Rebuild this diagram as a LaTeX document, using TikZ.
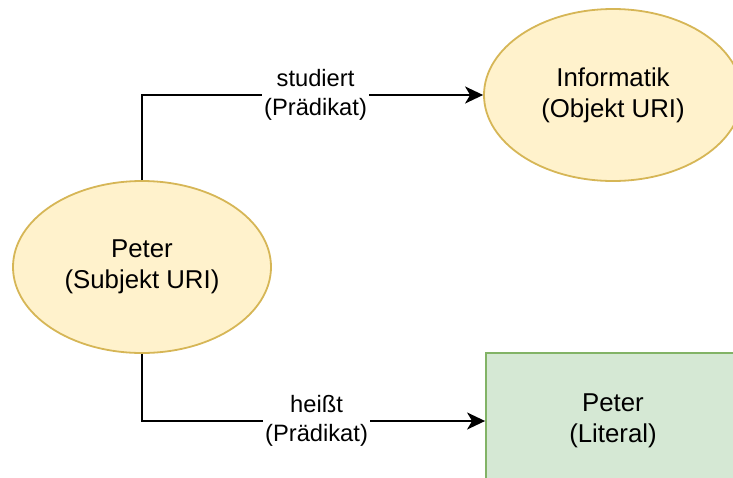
\documentclass[tikz,border=0pt]{standalone}
\usepackage{fontspec}
\setmainfont{Liberation Sans}
\usetikzlibrary{shapes.geometric,arrows.meta}
\definecolor{uriFill}{HTML}{FFF2CC}
\definecolor{uriLine}{HTML}{D6B656}
\definecolor{litFill}{HTML}{D5E8D4}
\definecolor{litLine}{HTML}{82B366}
\tikzset{
  urinode/.style={ellipse, draw=uriLine, fill=uriFill, line width=1.8pt,
    minimum width=258pt, minimum height=172pt, inner sep=0pt, align=center,
    font=\fontsize{25.8pt}{31pt}\selectfont},
  litnode/.style={rectangle, draw=litLine, fill=litFill, line width=1.8pt,
    minimum width=254pt, minimum height=136pt, inner sep=0pt, align=center,
    font=\fontsize{25.8pt}{31pt}\selectfont},
  relation/.style={line width=2pt, -{Stealth[length=18pt,width=17pt,inset=5pt]}},
  predlabel/.style={fill=white, inner sep=2pt, align=center, xshift=3pt,
    font=\fontsize{23.7pt}{29pt}\selectfont}
}
\begin{document}
\begin{tikzpicture}[x=1pt,y=-1pt]
  \useasboundingbox (0,0) rectangle (733,477);
  \clip (0,0) rectangle (733,477);
  \node[urinode] (subj) at (142,267) {Peter\\(Subjekt URI)};
  \node[urinode] (obj) at (613,95) {Informatik\\(Objekt URI)};
  \node[litnode] (lit) at (613,421) {Peter\\(Literal)};
  \draw[relation] (subj.north) |- (obj.west)
    node[predlabel, pos=0.75] (p1) {studiert\\(Prädikat)};
  \draw[relation] (subj.south) |- (lit.west)
    node[predlabel, pos=0.75] (p2) {heißt\\(Prädikat)};
\end{tikzpicture}
\end{document}
